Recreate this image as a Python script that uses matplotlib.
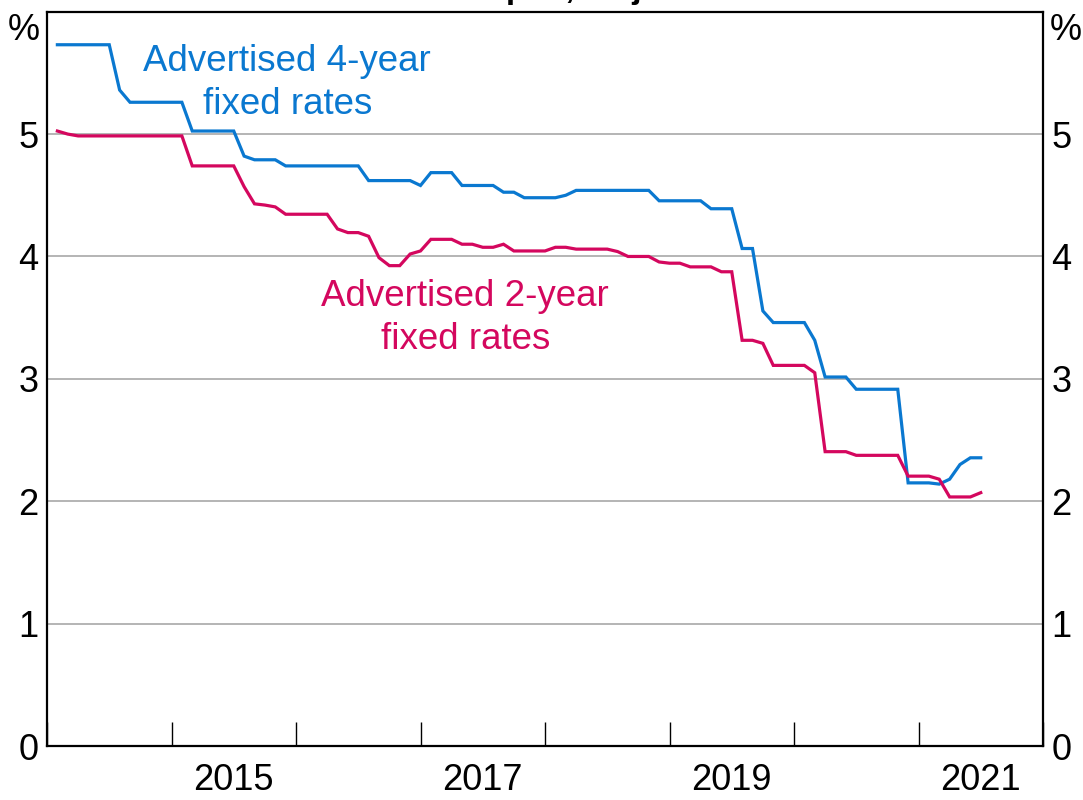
import numpy as np
import pandas as pd
import matplotlib
matplotlib.use("Agg")
import matplotlib.pyplot as plt

plt.rcParams['font.family'] = ['Liberation Sans', 'DejaVu Sans']

# monthly observations, Feb 2014 - Jul 2021
months = pd.date_range('2014-02-01', '2021-07-01', freq='MS')

fixed_4yr = [5.73, 5.73, 5.73, 5.73, 5.73, 5.73, 5.36, 5.26, 5.26, 5.26,
             5.26, 5.26, 5.26, 5.025, 5.025, 5.025, 5.025, 5.025, 4.82, 4.79,
             4.79, 4.79, 4.74, 4.74, 4.74, 4.74, 4.74, 4.74, 4.74, 4.74,
             4.62, 4.62, 4.62, 4.62, 4.62, 4.58, 4.685, 4.685, 4.685, 4.58,
             4.58, 4.58, 4.58, 4.525, 4.525, 4.48, 4.48, 4.48, 4.48, 4.50,
             4.54, 4.54, 4.54, 4.54, 4.54, 4.54, 4.54, 4.54, 4.455, 4.455,
             4.455, 4.455, 4.455, 4.39, 4.39, 4.39, 4.065, 4.065, 3.555, 3.46,
             3.46, 3.46, 3.46, 3.315, 3.015, 3.015, 3.015, 2.915, 2.915, 2.915,
             2.915, 2.915, 2.15, 2.15, 2.15, 2.14, 2.18, 2.30, 2.355, 2.355]

fixed_2yr = [5.025, 5.00, 4.985, 4.985, 4.985, 4.985, 4.985, 4.985, 4.985, 4.985,
             4.985, 4.985, 4.985, 4.74, 4.74, 4.74, 4.74, 4.74, 4.57, 4.43,
             4.42, 4.405, 4.345, 4.345, 4.345, 4.345, 4.345, 4.225, 4.195, 4.195,
             4.165, 3.99, 3.925, 3.925, 4.02, 4.045, 4.14, 4.14, 4.14, 4.10,
             4.10, 4.075, 4.075, 4.10, 4.045, 4.045, 4.045, 4.045, 4.075, 4.075,
             4.06, 4.06, 4.06, 4.06, 4.04, 4.00, 4.00, 4.00, 3.955, 3.945,
             3.945, 3.915, 3.915, 3.915, 3.875, 3.875, 3.315, 3.315, 3.29, 3.11,
             3.11, 3.11, 3.11, 3.05, 2.405, 2.405, 2.405, 2.375, 2.375, 2.375,
             2.375, 2.375, 2.205, 2.205, 2.205, 2.18, 2.035, 2.035, 2.035, 2.07]

year_ticks = list(range(2014, 2023))
year_labels = ['2015', '2017', '2019', '2021']
y_ticks = [0, 1, 2, 3, 4, 5]

blue = '#0a78d0'
pink = '#d4075e'

# decimal years for plotting
xs = months.year + (months.month - 1) / 12

fig = plt.figure(figsize=(10.83, 8), dpi=100)
ax = fig.add_axes([47 / 1083, 54 / 800, (1043 - 47) / 1083, (788.3 - 54) / 800])

ax.plot(xs, fixed_4yr, color=blue, lw=2.3, solid_joinstyle='miter')
ax.plot(xs, fixed_2yr, color=pink, lw=2.3, solid_joinstyle='miter')

ax.set_xlim(2014, 2022)
ax.set_ylim(0, 6)

for v in y_ticks[1:]:
    ax.axhline(v, color='#b4b4b4', lw=1.4, zorder=0)

ax.set_xticks(year_ticks)
ax.set_xticklabels([])
ax.set_xticks([int(y) + 0.5 for y in year_labels], minor=True)
ax.set_xticklabels(year_labels, minor=True)
ax.tick_params(axis='x', which='major', direction='in', length=17, width=1.0, color='black')
ax.tick_params(axis='x', which='minor', length=0, labelsize=26, pad=12)

ax.set_yticks(y_ticks)
ax.set_yticklabels([str(v) for v in y_ticks])
ax.tick_params(axis='y', length=0, labelsize=26, pad=6, left=True, right=True,
               labelleft=True, labelright=True)

for s in ax.spines.values():
    s.set_linewidth(1.6)

# unit markers at the top of each axis
ax.text(-0.007, 5.85, '%', transform=ax.get_yaxis_transform(), ha='right', va='center', fontsize=26)
ax.text(1.007, 5.85, '%', transform=ax.get_yaxis_transform(), ha='left', va='center', fontsize=26)

ax.text(2015.93, 5.42, 'Advertised 4-year\nfixed rates', color=blue, fontsize=26.5,
        ha='center', va='center', linespacing=1.3)
ax.text(2017.36, 3.50, 'Advertised 2-year\nfixed rates', color=pink, fontsize=26.5,
        ha='center', va='center', linespacing=1.3)

# title sits mostly above the visible area
fig.text(0.505, 1.003, 'Owner-occupier, major banks', ha='center', va='baseline',
         fontsize=24, fontweight='bold')

fig.savefig('out.png', dpi=100)
